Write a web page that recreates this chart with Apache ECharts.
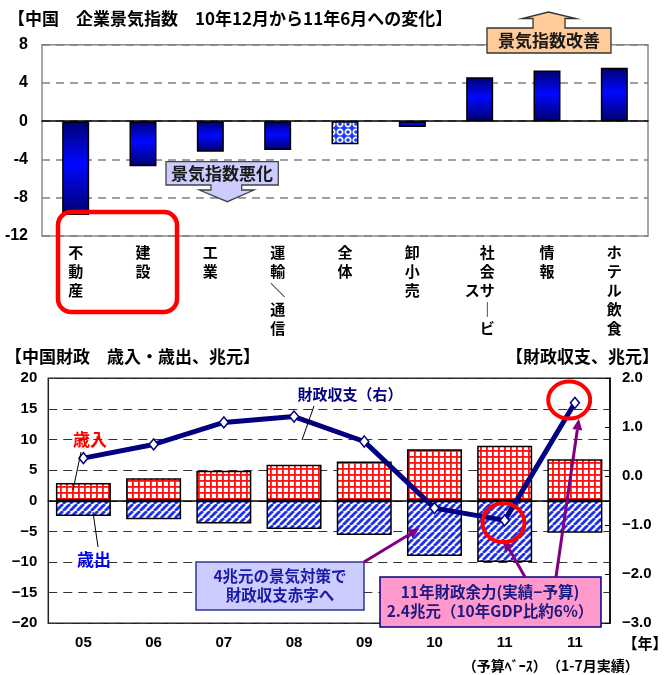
<!DOCTYPE html>
<html><head><meta charset="utf-8">
<script src="https://cdn.jsdelivr.net/npm/echarts@6/dist/echarts.min.js"></script>
<style>html,body{margin:0;padding:0;background:#fff}#chart{width:664px;height:675px}</style>
</head><body><div id="chart"></div>
<script>
// 企業景気指数：10年12月→11年6月の変化（業種別）
const sectors = ['不動産', '建設', '工業', '運輸／通信', '全体', '卸小売', '社会サービス', '情報', 'ホテル飲食'];
const sectorChange = [-9.8, -4.7, -3.2, -3.0, -2.4, -0.6, 4.6, 5.3, 5.6];

// 中国財政（兆元）
const years = ['05', '06', '07', '08', '09', '10', '11', '11'];
const yearNotes = ['', '', '', '', '', '', '（予算ﾍﾞｰｽ）', '（1-7月実績）'];
const revenue = [2.9, 3.7, 4.9, 5.9, 6.4, 8.4, 9.0, 6.8];
const expenditure = [-2.5, -3.0, -3.7, -4.6, -5.6, -9.0, -10.0, -5.2];
const balance = [0.37, 0.65, 1.10, 1.22, 0.71, -0.65, -0.9, 1.5];

const JP = "'Noto Sans CJK JP', sans-serif";
const NUM = "'Liberation Sans', 'Noto Sans CJK JP', sans-serif";

// --- fill patterns ---
function gridPattern() {
  const s = 6, c = document.createElement('canvas'); c.width = c.height = s;
  const g = c.getContext('2d');
  g.fillStyle = '#fff'; g.fillRect(0, 0, s, s);
  g.fillStyle = '#ff1010'; g.fillRect(0, 0, s, 1.8); g.fillRect(0, 0, 1.8, s);
  return c;
}
function hatchPattern() {
  const s = 7, c = document.createElement('canvas'); c.width = c.height = s;
  const g = c.getContext('2d');
  g.fillStyle = '#fff'; g.fillRect(0, 0, s, s);
  g.strokeStyle = '#1f2ff0'; g.lineWidth = 2.8;
  for (const k of [-s, 0, s]) { g.beginPath(); g.moveTo(k, s); g.lineTo(k + s, 0); g.stroke(); }
  return c;
}
function dotPattern() {
  const s = 8, c = document.createElement('canvas'); c.width = c.height = s;
  const g = c.getContext('2d');
  g.fillStyle = '#1a3cff'; g.fillRect(0, 0, s, s);
  g.strokeStyle = '#fff'; g.lineWidth = 1.7;
  g.beginPath(); g.arc(4, 4, 2.7, 0, Math.PI * 2); g.stroke();
  return c;
}

const barGradient = new echarts.graphic.LinearGradient(0, 0, 0, 1, [
  { offset: 0, color: '#00006e' }, { offset: 0.45, color: '#0008ff' }, { offset: 1, color: '#00006e' }
]);

// vertical (tategaki) category labels
const VERT = { 'ー': '｜', '／': '＼' };
function verticalLabel(name) {
  const chars = Array.from(name).map(c => VERT[c] || c);
  if (chars.length <= 5) return chars.join('\n');
  const main = chars.slice(0, 5), rest = chars.slice(5);
  const start = Math.floor((5 - rest.length) / 2);
  return main.map((c, i) => (i >= start && i < start + rest.length ? rest[i - start] : '　') + c).join('\n');
}
const minusSign = v => String(v).replace('-', '−');

const chart = echarts.init(document.getElementById('chart'), null, { renderer: 'canvas' });

const boldLabel = { fontFamily: NUM, fontWeight: 'bold', fontSize: 15, color: '#000' };

chart.setOption({
  animation: false,
  backgroundColor: '#fff',
  grid: [
    { left: 42, right: 16, top: 44.7, bottom: 439, show: true, borderColor: '#8a8a8a', borderWidth: 1.5, backgroundColor: 'transparent' },
    { left: 48.3, right: 54, top: 378.3, bottom: 51.7, show: true, borderColor: '#222', borderWidth: 1.5, backgroundColor: 'transparent' }
  ],
  xAxis: [
    { gridIndex: 0, type: 'category', data: sectors,
      axisLine: { onZero: true, lineStyle: { color: '#000', width: 1.5 } },
      axisTick: { inside: true, length: 5, lineStyle: { color: '#666' } },
      axisLabel: { show: false }, splitLine: { show: false } },
    { gridIndex: 0, type: 'category', data: sectors, position: 'bottom',
      axisLine: { show: false, onZero: false }, axisTick: { show: false },
      axisLabel: { interval: 0, formatter: verticalLabel, fontFamily: JP, fontWeight: 'bold', fontSize: 15, lineHeight: 19, margin: 7, color: '#000' } },
    { gridIndex: 1, type: 'category', data: years,
      axisLine: { onZero: true, lineStyle: { color: '#000', width: 1.5 } },
      axisTick: { inside: true, length: 5, lineStyle: { color: '#000' } },
      axisLabel: { show: false }, splitLine: { show: false } },
    { gridIndex: 1, type: 'category', data: years, position: 'bottom',
      axisLine: { show: false, onZero: false }, axisTick: { show: false },
      axisLabel: { interval: 0, margin: 12,
        formatter: (v, i) => {
          const note = yearNotes[i];
          if (!note) return '{a|' + v + '}';
          return '{a|' + v + '}\n{' + (i === years.length - 1 ? 'c' : 'b') + '|' + note + '}';
        },
        rich: {
          a: { fontFamily: NUM, fontWeight: 'bold', fontSize: 15, lineHeight: 16, color: '#000' },
          b: { fontFamily: JP, fontWeight: 'bold', fontSize: 14, lineHeight: 28, color: '#000' },
          c: { fontFamily: JP, fontWeight: 'bold', fontSize: 14, lineHeight: 28, color: '#000', padding: [0, 0, 0, 36] }
        } } }
  ],
  yAxis: [
    { gridIndex: 0, type: 'value', min: -12, max: 8, interval: 4,
      axisLine: { show: false }, axisTick: { show: false },
      axisLabel: Object.assign({ margin: 14, fontSize: 16 }, { fontFamily: NUM, fontWeight: 'bold', color: '#000' }),
      splitLine: { lineStyle: { type: [8, 6], color: '#808080', width: 1.5 } } },
    { gridIndex: 1, type: 'value', min: -20, max: 20, interval: 5,
      axisLine: { show: false }, axisTick: { show: false },
      axisLabel: Object.assign({ margin: 11, formatter: minusSign }, boldLabel),
      splitLine: { lineStyle: { type: [9, 6], color: '#333', width: 1 } } },
    { gridIndex: 1, type: 'value', position: 'right', min: -3, max: 2, interval: 1,
      axisLine: { show: true, onZero: false, lineStyle: { color: '#000', width: 1.5 } },
      axisTick: { show: true, inside: true, length: 5, lineStyle: { color: '#000' } },
      axisLabel: Object.assign({ margin: 12, formatter: v => minusSign(v.toFixed(1)) }, boldLabel),
      splitLine: { show: false } }
  ],
  series: [
    { type: 'bar', name: '企業景気指数', xAxisIndex: 0, yAxisIndex: 0, barWidth: 27,
      data: sectorChange.map((v, i) => sectors[i] === '全体'
        ? { value: v, itemStyle: { color: { image: dotPattern(), repeat: 'repeat' } } } : v),
      itemStyle: { color: barGradient, borderColor: '#000', borderWidth: 1.5 } },
    { type: 'bar', name: '歳入', xAxisIndex: 2, yAxisIndex: 1, stack: 'fiscal', barWidth: 55, data: revenue,
      itemStyle: { color: { image: gridPattern(), repeat: 'repeat' }, borderColor: '#000', borderWidth: 1.5 } },
    { type: 'bar', name: '歳出', xAxisIndex: 2, yAxisIndex: 1, stack: 'fiscal', barWidth: 55, data: expenditure,
      itemStyle: { color: { image: hatchPattern(), repeat: 'repeat' }, borderColor: '#000', borderWidth: 1.5 } },
    { type: 'line', name: '財政収支', xAxisIndex: 2, yAxisIndex: 2, data: balance, z: 4,
      symbol: 'diamond', symbolSize: [9, 11],
      lineStyle: { color: '#000080', width: 5 },
      itemStyle: { color: '#fff', borderColor: '#000080', borderWidth: 1.5 } }
  ]
});

// --- annotations ---
const px = (s, x, y) => chart.convertToPixel({ seriesIndex: s }, [x, y]);
const P7 = px(3, 6, balance[6]);
const P8 = px(3, 7, balance[7]);
const deficitBar = px(2, 5, expenditure[5] / 2);

function text(x, y, str, size, color, opts) {
  return Object.assign({ type: 'text', x, y, z: 20,
    style: Object.assign({ text: str, font: 'bold ' + size + 'px ' + JP, fill: color,
      align: 'center', verticalAlign: 'middle', textAlign: 'center', textVerticalAlign: 'middle' }, opts || {}) });
}
function seg(x1, y1, x2, y2, color, w) {
  return { type: 'line', z: 20, shape: { x1, y1, x2, y2 }, style: { stroke: color, lineWidth: w } };
}
function arrow(x1, y1, x2, y2, color, w) {
  const a = Math.atan2(y2 - y1, x2 - x1), hl = 11, hw = 5;
  const bx = x2 - hl * Math.cos(a), by = y2 - hl * Math.sin(a);
  const ox = -Math.sin(a) * hw, oy = Math.cos(a) * hw;
  return [seg(x1, y1, bx, by, color, w),
    { type: 'polygon', z: 20, shape: { points: [[x2, y2], [bx + ox, by + oy], [bx - ox, by - oy]] }, style: { fill: color } }];
}
const purple = '#800080';

const graphics = [
  // titles
  text(8, 19, '【中国　企業景気指数　10年12月から11年6月への変化】', 17, '#000', { align: 'left', textAlign: 'left' }),
  text(5, 357, '【中国財政　歳入・歳出、兆元】', 17, '#000', { align: 'left', textAlign: 'left' }),
  text(659, 357, '【財政収支、兆元】', 17, '#000', { align: 'right', textAlign: 'right' }),
  text(645, 643, '【年】', 15, '#000'),

  // 改善 callout (arrow up)
  { type: 'polygon', z: 18, shape: { points: [[487, 53], [611, 53], [611, 28], [565, 28], [565, 18.5], [576, 18.5], [548.5, 12], [522, 18.5], [533, 18.5], [533, 28], [487, 28]] },
    style: { fill: '#ffcc99', stroke: '#333', lineWidth: 1.3 } },
  text(549, 40.5, '景気指数改善', 17, '#1a1a1a'),

  // 悪化 callout (arrow down)
  { type: 'polygon', z: 18, shape: { points: [[166, 161.7], [278.3, 161.7], [278.3, 185], [241.7, 185], [241.7, 190], [254, 190], [227.3, 201.7], [199.3, 190], [211, 190], [211, 185], [166, 185]] },
    style: { fill: '#ccccff', stroke: '#444', lineWidth: 1.3 } },
  text(222, 173.5, '景気指数悪化', 17, '#1a1a1a'),

  // highlight around 不動産・建設
  { type: 'rect', z: 19, shape: { x: 58, y: 212, width: 119, height: 100, r: 13 },
    style: { fill: 'none', stroke: '#ff0000', lineWidth: 4.5 } },

  // series labels with leaders
  text(350, 394, '財政収支（右）', 15, '#000080'),
  seg(314, 406, 302, 440, '#000', 1),
  text(90, 440, '歳入', 17, '#ff0000'),
  seg(81, 452, 73, 490, '#000', 1),
  text(94, 560, '歳出', 17, '#0000ff'),
  seg(93, 512, 98, 547, '#000', 1),

  // stimulus note
  { type: 'rect', z: 18, shape: { x: 196, y: 562, width: 168, height: 48 }, style: { fill: '#ccccff', stroke: '#333399', lineWidth: 1.5 } },
  text(280, 586, '4兆元の景気対策で\n財政収支赤字へ', 15.5, '#1a1aa8', { lineHeight: 19 }),
  ...arrow(364, 562, deficitBar[0] - 15, deficitBar[1], purple, 3),

  // fiscal room note
  { type: 'rect', z: 18, shape: { x: 380, y: 577, width: 221, height: 50 }, style: { fill: '#ff99cc', stroke: '#000080', lineWidth: 1.5 } },
  text(490, 602, '11年財政余力(実績−予算)\n2.4兆元（10年GDP比約6%）', 15.5, '#1a1a80', { lineHeight: 19 }),
  ...arrow(525, 577, P7[0] - 1, P7[1] + 19, purple, 3),
  ...arrow(556, 577, P8[0] + 4, P8[1] + 16, purple, 3),

  // red rings around 2011 points
  { type: 'ellipse', z: 21, shape: { cx: P7[0] - 1.2, cy: P7[1] + 2.3, rx: 21, ry: 19.5 }, style: { fill: 'none', stroke: '#ff0000', lineWidth: 4 } },
  { type: 'ellipse', z: 21, shape: { cx: P8[0] - 5.7, cy: P8[1] - 2.7, rx: 21, ry: 18.5 }, style: { fill: 'none', stroke: '#ff0000', lineWidth: 4 } }
];

chart.setOption({ graphic: { elements: graphics } });
</script>
</body></html>
